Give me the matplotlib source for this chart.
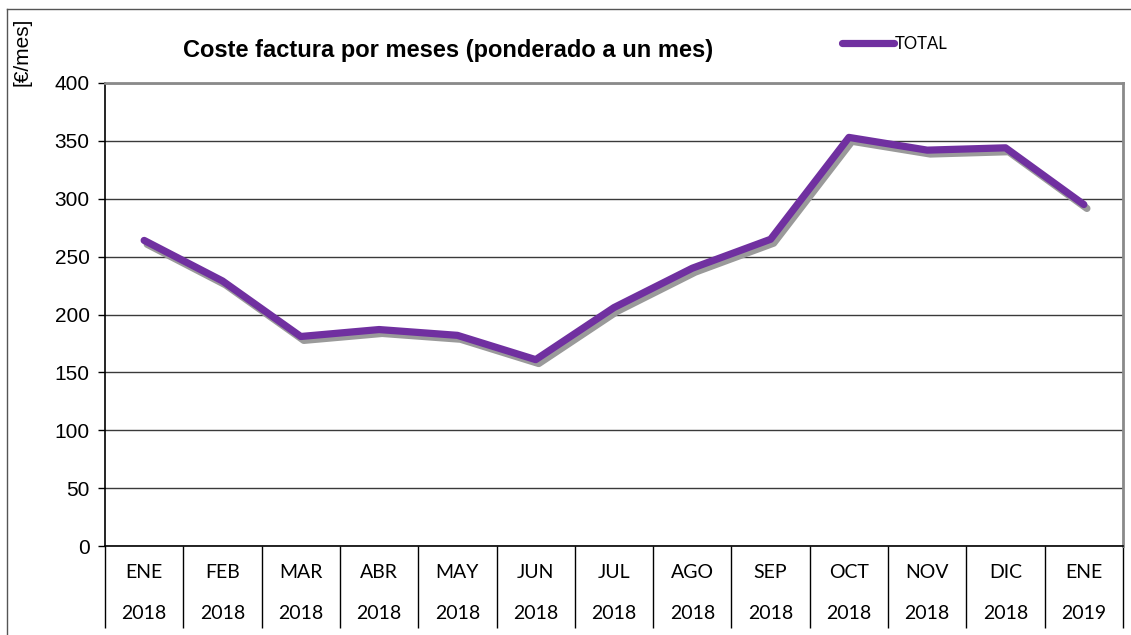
#!/usr/bin/env python3
"""Coste factura por meses (ponderado a un mes) - line chart."""

import matplotlib

matplotlib.use("Agg")
import matplotlib.pyplot as plt
import matplotlib.patheffects as pe
from matplotlib.lines import Line2D

months = ["ENE", "FEB", "MAR", "ABR", "MAY", "JUN", "JUL",
          "AGO", "SEP", "OCT", "NOV", "DIC", "ENE"]
years = ["2018"] * 12 + ["2019"]
total = [264, 229, 181, 187, 182, 161, 206, 240, 265, 353, 342, 344, 295]
yticks = [0, 50, 100, 150, 200, 250, 300, 350, 400]

PURPLE = "#7030A0"
W, H = 1131, 635

fig = plt.figure(figsize=(W / 100, H / 100), dpi=100)
ax = fig.add_axes([105 / W, 1 - 546 / H, (1123 - 105) / W, (546 - 83) / H])

x = list(range(len(total)))
ax.plot(x, total, color=PURPLE, lw=5.2, solid_capstyle="round",
        solid_joinstyle="round", zorder=3,
        path_effects=[pe.SimpleLineShadow(offset=(2.2, -2.8),
                                          shadow_color="#9a9a9a", alpha=1.0),
                      pe.Normal()])

ax.set_xlim(-0.5, len(total) - 0.5)
ax.set_ylim(0, 400)
ax.set_yticks(yticks)
ax.yaxis.grid(True, color="#3a3a3a", lw=1.0)
ax.set_axisbelow(True)
ax.tick_params(axis="y", labelsize=15, length=5, width=1, pad=6,
               labelfontfamily="Liberation Sans")

# category separators below the axis
ax.set_xticks(x)
ax.set_xticklabels([])
ax.tick_params(axis="x", which="major", length=0)
ax.set_xticks([i - 0.5 for i in range(len(total) + 1)], minor=True)
ax.tick_params(axis="x", which="minor", length=59, width=1, color="black")

for i, (m, yr) in enumerate(zip(months, years)):
    ax.text(i, -0.058, m, transform=ax.get_xaxis_transform(), ha="center",
            va="center", fontsize=14, family="Lato")
    ax.text(i, -0.145, yr, transform=ax.get_xaxis_transform(), ha="center",
            va="center", fontsize=14, family="Lato")

for side in ("left", "bottom"):
    ax.spines[side].set_color("black")
    ax.spines[side].set_linewidth(1.2)
for side in ("top", "right"):
    ax.spines[side].set_color("#8a8a8a")
    ax.spines[side].set_linewidth(2)

fig.text(448 / W, 1 - 50 / H, "Coste factura por meses (ponderado a un mes)",
         ha="center", va="center", fontsize=17, fontweight="bold",
         family="Liberation Sans")
fig.text(22 / W, 1 - 52 / H, "[€/mes]", rotation=90, ha="center",
         va="center", fontsize=15, family="Liberation Sans")

handle = Line2D([], [], color=PURPLE, lw=5.2, solid_capstyle="round")
ax.legend([handle], ["TOTAL"], loc="center left",
          bbox_to_anchor=(827 / W, 1 - 44 / H),
          bbox_transform=fig.transFigure, frameon=False, handlelength=3.1,
          handletextpad=0.05, prop={"family": "Lato", "size": 12})

# outer chart frame (right and bottom edges cut off)
fig.add_artist(Line2D([7 / W, 7 / W], [0, 1 - 9 / H], color="#555555", lw=1))
fig.add_artist(Line2D([7 / W, 1], [1 - 9 / H, 1 - 9 / H], color="#555555", lw=1))

fig.savefig("out.png", dpi=100, facecolor="white")
